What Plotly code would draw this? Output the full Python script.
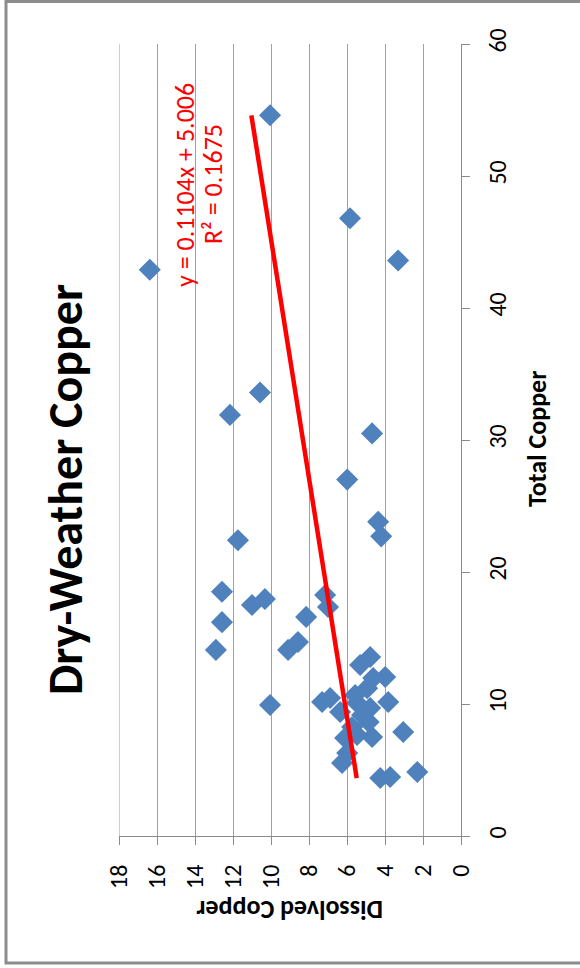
import plotly.graph_objects as go

# Data read from the (rotated) reference chart
total_copper = [54.6, 42.9, 46.8, 43.6, 33.6, 31.9, 30.5, 27.0, 22.4, 23.8, 22.7,
                18.5, 17.5, 17.95, 18.26, 17.35, 16.2, 16.6, 14.1, 14.1, 14.7,
                9.92, 10.15, 10.45, 9.39, 13.56, 12.95, 12.05, 11.97, 11.2, 10.68,
                10.15, 10.08, 9.7, 9.17, 8.26, 7.5, 7.65, 7.42, 7.88, 6.29, 5.53,
                4.39, 4.47, 4.85, 8.64]
dissolved_copper = [10.05, 16.38, 5.84, 3.31, 10.58, 12.16, 4.68, 5.99, 11.74, 4.36, 4.20,
                    12.58, 11.0, 10.32, 7.15, 7.0, 12.58, 8.15, 12.9, 9.1, 8.58,
                    10.05, 7.31, 6.89, 6.36, 4.78, 5.31, 3.99, 4.62, 4.94, 5.57,
                    3.83, 5.47, 4.78, 5.2, 5.73, 4.68, 5.47, 6.1, 3.04, 5.99, 6.26,
                    4.25, 3.73, 2.3, 4.86]

slope = 0.1104
intercept = 5.006
eq_label = "y = 0.1104x + 5.006"
r2_label = "R² = 0.1675"

title_text = "Dry-Weather Copper"
x_title = "Total Copper"
y_title = "Dissolved Copper"

d_max = 18
W, H = 580, 968
L, R, T, B = 119, 461, 44, 836  # plot area pixel bounds


def px(x):
    return (x - L) / (R - L)


def py(y):
    return (B - y) / (B - T)


tmin, tmax = min(total_copper), max(total_copper)
trend_t = [tmin, tmax]
trend_d = [slope * t + intercept for t in trend_t]

FONT = "Carlito, Liberation Sans, Arial, sans-serif"

fig = go.Figure()
fig.add_trace(go.Scatter(
    x=dissolved_copper, y=total_copper, mode="markers",
    marker=dict(symbol="diamond", size=17, color="#4F81BD", line=dict(width=0)),
    showlegend=False))
fig.add_trace(go.Scatter(
    x=trend_d, y=trend_t, mode="lines",
    line=dict(color="#FF0000", width=4.5), hoverinfo="skip", showlegend=False))

fig.update_layout(
    width=W, height=H,
    margin=dict(l=L, r=W - R, t=T, b=H - B),
    paper_bgcolor="white", plot_bgcolor="white",
    font=dict(family=FONT, color="#000000"),
    xaxis=dict(range=[d_max, 0], dtick=2, tickangle=-90,
               showgrid=True, gridcolor="#a0a0a0", gridwidth=1,
               showline=True, linecolor="#8a8a8a", linewidth=1,
               ticks="outside", ticklen=8, tickcolor="#8a8a8a",
               zeroline=False, tickfont=dict(size=24, family=FONT),
               ticklabelstandoff=10),
    yaxis=dict(range=[0, 60], dtick=10, side="right", tickangle=-90,
               showgrid=False, showline=True, linecolor="#8a8a8a", linewidth=1,
               ticks="outside", ticklen=8, tickcolor="#8a8a8a",
               zeroline=False, tickfont=dict(size=24, family=FONT),
               ticklabelstandoff=7),
    shapes=[
        dict(type="rect", xref="paper", yref="paper",
             x0=px(6), x1=px(600), y0=py(963), y1=py(1.5),
             line=dict(color="#8c8c8c", width=3), fillcolor="rgba(0,0,0,0)",
             layer="below"),
        dict(type="line", xref="x", yref="paper", x0=d_max, x1=d_max, y0=0, y1=1,
             line=dict(color="#a0a0a0", width=1), layer="below"),
    ],
    annotations=[
        dict(text="<b>" + title_text + "</b>", textangle=-90, x=px(65), y=py(490),
             xref="paper", yref="paper",
             showarrow=False, font=dict(size=48, family=FONT, color="#000000"),
             xanchor="center", yanchor="middle"),
        dict(text="<b>" + x_title + "</b>", textangle=-90, x=px(537), y=py(439),
             xref="paper", yref="paper", showarrow=False,
             font=dict(size=26, family=FONT), xanchor="center", yanchor="middle"),
        dict(text="<b>" + y_title + "</b>", textangle=180, x=px(290), y=py(910),
             xref="paper", yref="paper", showarrow=False,
             font=dict(size=26, family=FONT), xanchor="center", yanchor="middle"),
        dict(text=eq_label, textangle=-90, x=px(185), y=py(185), xref="paper", yref="paper",
             showarrow=False, font=dict(size=26, family=FONT, color="#FF0000"),
             xanchor="center", yanchor="middle"),
        dict(text=r2_label, textangle=-90, x=px(213), y=py(184), xref="paper", yref="paper",
             showarrow=False, font=dict(size=26, family=FONT, color="#FF0000"),
             xanchor="center", yanchor="middle"),
    ],
)

fig.write_html("out.html", config={"displayModeBar": False},
               post_script="document.body.style.margin='0';")
